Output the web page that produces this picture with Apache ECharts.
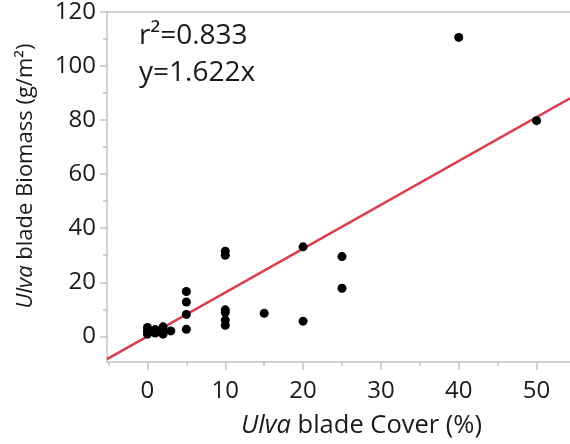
<!DOCTYPE html>
<html><head><meta charset="utf-8">
<script src="https://cdn.jsdelivr.net/npm/echarts@6/dist/echarts.min.js"></script>
<style>html,body{margin:0;padding:0;background:#fff}#c{width:570px;height:444px}</style>
</head><body><div id="c"></div>
<script>
// Data
const coverX = [0, 0, 0, 1, 1, 2, 2, 2, 3, 5, 5, 5, 5, 10, 10, 10, 10, 10, 10, 15, 20, 20, 25, 25, 40, 50];
const biomassY = [3.3, 2, 0.8, 2.5, 1.2, 3.5, 2, 0.8, 2, 16.6, 12.7, 8.1, 2.6, 31.5, 30, 9.8, 8.8, 6, 4.1, 8.5, 33.1, 5.6, 29.5, 17.8, 110.6, 79.8];
const fitX = [-5.2, 54.3];
const fitY = [-8.43, 88.07];
const xMajorTicks = [0, 10, 20, 30, 40, 50];
const xMinorTicks = [-5, 5, 15, 25, 35, 45];
const yMajorTicks = [0, 20, 40, 60, 80, 100, 120];
const yMinorTicks = [10, 30, 50, 70, 90, 110];
const annotation = ['r²=0.833', 'y=1.622x'];

const FONT = '"Open Sans", "Noto Sans", sans-serif';
const AXC = '#c4c4c4';
const TXT = '#1a1a1a';
const XMIN = -5.2, XMAX = 54.3, YMIN = -9.5, YMAX = 120;

const chart = echarts.init(document.getElementById('c'));
const scatterData = coverX.map((x, i) => [x, biomassY[i]]);
const fitData = fitX.map((x, i) => [x, fitY[i]]);

chart.setOption({
  animation: false,
  grid: {left: 107, right: 0, top: 10, bottom: 81, containLabel: false},
  xAxis: [
    {
      type: 'value', min: XMIN, max: XMAX, position: 'bottom',
      splitLine: {show: false},
      axisLine: {show: true, onZero: false, lineStyle: {color: AXC, width: 1.5}},
      axisTick: {show: true, length: 8, customValues: xMajorTicks, lineStyle: {color: AXC, width: 1.5}},
      axisLabel: {customValues: xMajorTicks, color: TXT, fontSize: 24, fontFamily: FONT, margin: 17},
      name: '{i|Ulva} blade Cover (%)', nameLocation: 'middle', nameGap: 51,
      nameTextStyle: {color: TXT, fontSize: 25.5, fontFamily: FONT, padding: [0, 0, 0, 46],
        rich: {i: {fontStyle: 'italic', fontSize: 25.5, fontFamily: FONT, color: TXT}}}
    },
    {
      type: 'value', min: XMIN, max: XMAX, position: 'bottom',
      splitLine: {show: false},
      axisLine: {show: false, onZero: false},
      axisTick: {show: true, length: 4, customValues: xMinorTicks, lineStyle: {color: AXC, width: 1.5}},
      axisLabel: {show: false}
    },
    {
      type: 'value', min: XMIN, max: XMAX, position: 'top',
      splitLine: {show: false},
      axisLine: {show: true, onZero: false, lineStyle: {color: AXC, width: 1.5}},
      axisTick: {show: false}, axisLabel: {show: false}
    }
  ],
  yAxis: [
    {
      type: 'value', min: YMIN, max: YMAX, position: 'left',
      splitLine: {show: false},
      axisLine: {show: true, onZero: false, lineStyle: {color: AXC, width: 1.5}},
      axisTick: {show: true, length: 7, customValues: yMajorTicks, lineStyle: {color: AXC, width: 1.5}},
      axisLabel: {customValues: yMajorTicks, color: TXT, fontSize: 24, fontFamily: FONT, margin: 11},
      name: '{i|Ulva} blade Biomass (g/m²)', nameLocation: 'middle', nameGap: 70, nameRotate: 90,
      nameTextStyle: {color: TXT, fontSize: 22, fontFamily: FONT, padding: [0, 0, 0, 22],
        rich: {i: {fontStyle: 'italic', fontSize: 22, fontFamily: FONT, color: TXT}}}
    },
    {
      type: 'value', min: YMIN, max: YMAX, position: 'left',
      splitLine: {show: false},
      axisLine: {show: false, onZero: false},
      axisTick: {show: true, length: 4, customValues: yMinorTicks, lineStyle: {color: AXC, width: 1.5}},
      axisLabel: {show: false}
    }
  ],
  graphic: [
    {type: 'text', left: 139, top: 22, style: {text: annotation[0], fontSize: 28, fontFamily: FONT, fill: TXT}},
    {type: 'text', left: 139, top: 59, style: {text: annotation[1], fontSize: 28, fontFamily: FONT, fill: TXT}}
  ],
  series: [
    {
      type: 'line', data: fitData, xAxisIndex: 0, yAxisIndex: 0,
      symbol: 'none', lineStyle: {color: '#dc3d4d', width: 2.5}, z: 2, silent: true
    },
    {
      type: 'scatter', data: scatterData, xAxisIndex: 0, yAxisIndex: 0,
      symbolSize: 9, itemStyle: {color: '#000', opacity: 1}, z: 3
    }
  ]
});
</script></body></html>
